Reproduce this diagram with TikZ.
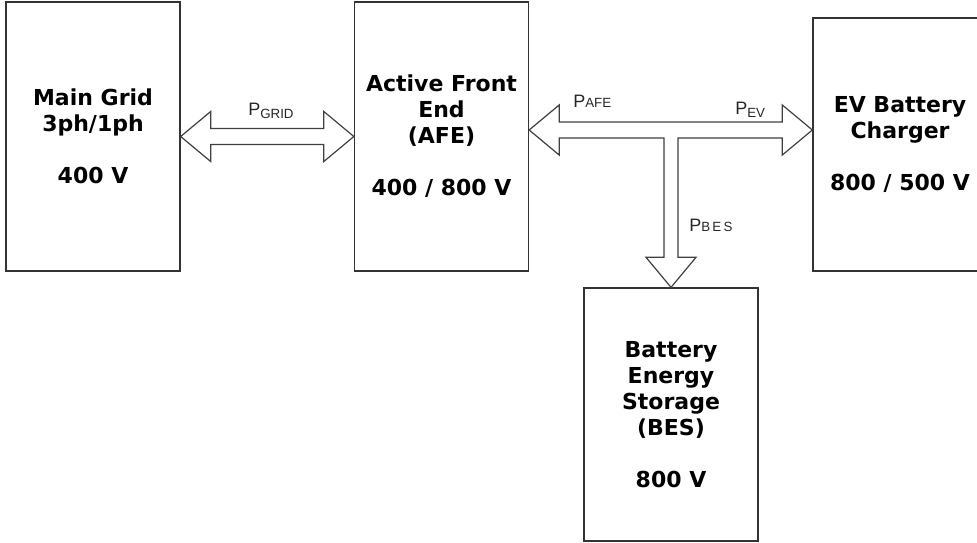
\documentclass[tikz,border=0pt]{standalone}
\usepackage{fontspec}
\setmainfont{DejaVu Sans}
\newfontfamily\lblfont{Liberation Sans}
\usepackage{tikz}
\usetikzlibrary{calc}

\begin{document}
\begin{tikzpicture}[x=0.75pt, y=-0.75pt,
    block/.style={draw=black!80, line width=1pt, fill=white, align=center, inner sep=0pt,
        minimum width=130.5pt, font=\fontsize{16.5}{19.5}\selectfont\bfseries},
    tallblock/.style={block, minimum height=201.75pt},
    shortblock/.style={block, minimum height=189.75pt},
    fatarrow/.style={draw=black!75, line width=0.9pt, fill=white, line join=miter},
    plabel/.style={font=\lblfont\fontsize{13.5}{15}\selectfont, inner sep=0pt, text=black!85}
]
\useasboundingbox (0,0) rectangle (977,542);
% Blocks
\node[tallblock] (grid) at (93,136.5) {Main Grid\\3ph/1ph\\[19.5pt]400 V};
\node[tallblock] (afe) at (441.5,136.5) {Active Front\\End\\(AFE)\\[19.5pt]400 / 800 V};
\node[shortblock] (ev) at (900,144.5) {EV Battery\\Charger\\[19.5pt]800 / 500 V};
\node[shortblock] (bes) at (671,414.5) {Battery\\Energy\\Storage\\(BES)\\[19.5pt]800 V};
% Grid <-> AFE
\draw[fatarrow] (grid.east) -- ++(30,-25) -- ++(0,17) -- ($(afe.west)+(-30,-8)$) -- ++(0,-17)
    -- (afe.west) -- ++(-30,25) -- ++(0,-17) -- ($(grid.east)+(30,8)$) -- ++(0,17) -- cycle;
% AFE <-> EV, tee down to BES
\coordinate (tee) at (671,130);
\draw[fatarrow] (afe.east |- tee) -- ++(30,-25) -- ++(0,17) -- ($(ev.west |- tee)+(-30,-8)$) -- ++(0,-17)
    -- (ev.west |- tee) -- ++(-30,25) -- ++(0,-17) -- ($(tee)+(7,8)$) -- ($(bes.north)+(7,-30)$)
    -- ++(18,0) -- (bes.north) -- ++(-25,-30) -- ++(18,0) -- ($(tee)+(-7,8)$)
    -- ($(afe.east |- tee)+(30,8)$) -- ++(0,17) -- cycle;
% Power labels
\node[plabel, anchor=base west] (pgrid) at (248,115) {P\raisebox{-2.5pt}{\fontsize{10}{11}\selectfont GRID}};
\node[plabel, anchor=base west] (pafe) at (573,107) {P{\fontsize{10}{11}\selectfont AFE}};
\node[plabel, anchor=base west] (pev) at (735,114) {P\raisebox{-2.5pt}{\fontsize{10}{11}\selectfont EV}};
\node[plabel, anchor=base west] (pbes) at (689,231) {P{\fontsize{10}{11}\selectfont B\,E\,S}};
\end{tikzpicture}
\end{document}
